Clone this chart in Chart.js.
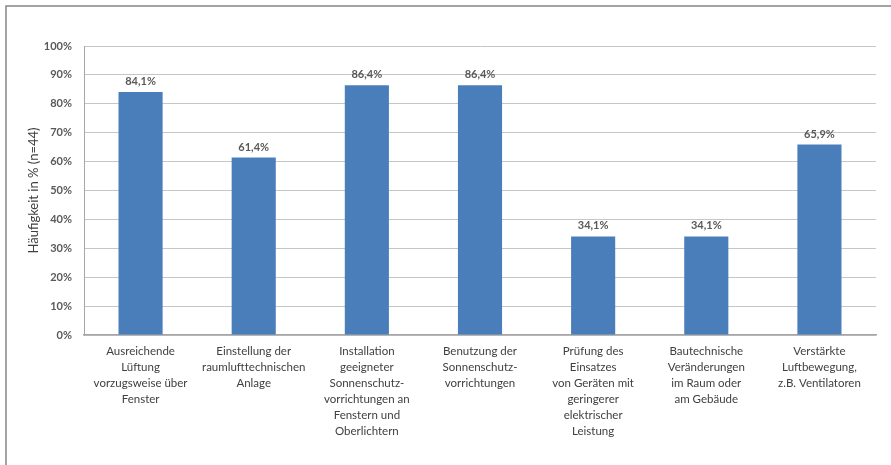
<!DOCTYPE html>
<html>
<head>
<meta charset="utf-8">
<script src="https://cdn.jsdelivr.net/npm/chart.js@4"></script>
<style>
html,body{margin:0;padding:0;background:#fff;}
canvas{display:block;}
</style>
</head>
<body>
<canvas id="c" width="891" height="465"></canvas>
<script>
const categories = [
  ["Ausreichende", "Lüftung", "vorzugsweise über", "Fenster"],
  ["Einstellung der", "raumlufttechnischen", "Anlage"],
  ["Installation", "geeigneter", "Sonnenschutz-", "vorrichtungen an", "Fenstern und", "Oberlichtern"],
  ["Benutzung der", "Sonnenschutz-", "vorrichtungen"],
  ["Prüfung des", "Einsatzes", "von Geräten mit", "geringerer", "elektrischer", "Leistung"],
  ["Bautechnische", "Veränderungen", "im Raum oder", "am Gebäude"],
  ["Verstärkte", "Luftbewegung,", "z.B. Ventilatoren"]
];
const values = [84.1, 61.4, 86.4, 86.4, 34.1, 34.1, 65.9];
const yTicks = [0, 10, 20, 30, 40, 50, 60, 70, 80, 90, 100];
const yTitle = "Häufigkeit in % (n=44)";

const FONT = "Lato, 'Open Sans', sans-serif";

const framePlugin = {
  id: 'frame',
  beforeDraw(chart) {
    const ctx = chart.ctx;
    ctx.save();
    ctx.fillStyle = '#ffffff';
    ctx.fillRect(0, 0, chart.width, chart.height);
    ctx.strokeStyle = '#858585';
    ctx.lineWidth = 1.5;
    ctx.beginPath();
    ctx.moveTo(6, chart.height);
    ctx.lineTo(6, 6);
    ctx.lineTo(chart.width, 6);
    ctx.stroke();
    ctx.restore();
  }
};

const labelPlugin = {
  id: 'barLabels',
  afterDatasetsDraw(chart) {
    const ctx = chart.ctx;
    const meta = chart.getDatasetMeta(0);
    ctx.save();
    ctx.font = "bold 11px " + FONT;
    ctx.fillStyle = '#595959';
    ctx.textAlign = 'center';
    ctx.textBaseline = 'alphabetic';
    meta.data.forEach((bar, i) => {
      const txt = values[i].toFixed(1).replace('.', ',') + '%';
      ctx.fillText(txt, bar.x, bar.y - 7);
    });
    ctx.restore();
  }
};

new Chart(document.getElementById('c'), {
  type: 'bar',
  data: {
    labels: categories,
    datasets: [{
      data: values,
      backgroundColor: '#4A7EBB',
      borderWidth: 0,
      barPercentage: 0.39,
      categoryPercentage: 1.0
    }]
  },
  options: {
    responsive: false,
    animation: false,
    devicePixelRatio: 1,
    layout: { padding: { left: 0, right: 15, top: 46, bottom: 0 } },
    plugins: {
      legend: { display: false },
      tooltip: { enabled: false }
    },
    scales: {
      x: {
        grid: { display: false, drawTicks: false },
        border: { display: true, color: '#a6a6a6', width: 1.5 },
        ticks: {
          color: '#404040',
          font: { family: FONT, size: 11.5, lineHeight: '16px' },
          padding: 8,
          maxRotation: 0,
          autoSkip: false
        },
        afterFit(scale) { scale.height = 130; }
      },
      y: {
        min: 0,
        max: 100,
        afterBuildTicks(scale) { scale.ticks = yTicks.map(v => ({ value: v })); },
        grid: { color: '#c6c6c6', lineWidth: 1, drawTicks: false },
        border: { display: true, color: '#a6a6a6', width: 1 },
        ticks: {
          color: '#595959',
          font: { family: FONT, size: 11, weight: 'bold' },
          padding: 12,
          callback: v => v + '%'
        },
        title: {
          display: true,
          text: yTitle,
          color: '#404040',
          font: { family: FONT, size: 13 },
          padding: { top: 26, bottom: 0 }
        },
        afterFit(scale) { scale.width = 84; }
      }
    }
  },
  plugins: [framePlugin, labelPlugin]
});
</script>
</body>
</html>
